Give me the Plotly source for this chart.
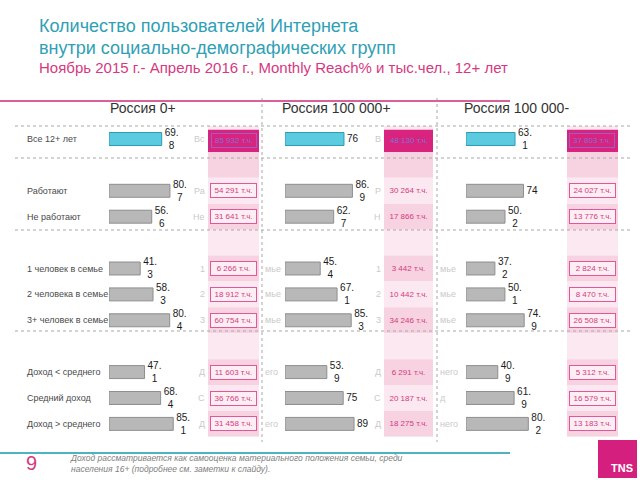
import plotly.graph_objects as go

# ---------------- data ----------------
categories = ["Все 12+ лет", "Работают", "Не работают",
              "1 человек в семье", "2 человека в семье", "3+ человек в семье",
              "Доход < среднего", "Средний доход", "Доход > среднего"]
group_sizes = [1, 2, 3, 3]
panels = ["Россия 0+", "Россия 100 000+", "Россия 100 000-"]
reach_0 = [69.8, 80.7, 56.6, 41.3, 58.3, 80.4, 47.1, 68.4, 85.1]
reach_100p = [76, 86.9, 62.7, 45.4, 67.1, 85.3, 53.9, 75, 89]
reach_100m = [63.1, 74, 50.2, 37.2, 50.1, 74.9, 40.9, 61.9, 80.2]
users_0 = [85932, 54291, 31641, 6266, 18912, 60754, 11603, 36766, 31458]
users_100p = [48130, 30264, 17866, 3442, 10442, 34246, 6291, 20187, 18275]
users_100m = [37803, 24027, 13776, 2824, 8470, 26508, 5312, 16579, 13183]

W, H = 640, 480
FONT = "Liberation Sans, Arial, sans-serif"
PINK = "#d6397f"
MAGENTA = "#d8247f"
BAND_DARK = "#f7d2e1"
BAND_LIGHT = "#fbe8f0"

def px(x):
    return x / W

def py(y):
    return 1 - y / H

# slot positions (spacer slot after each group)
slots = []
s = 0
for g in group_sizes:
    for _ in range(g):
        slots.append(s)
        s += 1
    s += 1
n_slots = slots[-1] + 1

def fmt_reach(v):
    if float(v).is_integer():
        return str(int(v))
    whole, dec = f"{v:.1f}".split(".")
    return f"{whole}.<br>{dec}"

def fmt_users(n):
    return f"{n:,}".replace(",", " ") + " т.ч."

fig = go.Figure()

geo = [
    dict(x0=109, scale=0.755, band=(208, 259), box=233.5, border=True),
    dict(x0=285, scale=0.776, band=(384, 433), box=408.5, border=False),
    dict(x0=466, scale=0.777, band=(567, 618), box=592, border=True),
]
reaches = [reach_0, reach_100p, reach_100m]
users = [users_0, users_100p, users_100m]

for i, (g, r) in enumerate(zip(geo, reaches)):
    ax = "" if i == 0 else str(i + 1)
    colors = ["#5ccbe0"] + ["#b8b8b8"] * (len(r) - 1)
    lines = ["#2b9cb5"] + ["#8e8e8e"] * (len(r) - 1)
    fig.add_trace(go.Bar(
        x=r, y=slots, orientation="h", width=0.5,
        marker=dict(color=colors, line=dict(color=lines, width=1)),
        text=[fmt_reach(v) for v in r], textposition="outside",
        textfont=dict(family=FONT, size=10, color="#1a1a1a"),
        constraintext="none", cliponaxis=False,
        xaxis="x" + ax, yaxis="y", showlegend=False, hoverinfo="skip",
    ))

ydom = [py(139 + 25.9 * (n_slots - 1) + 12.95), py(139 - 12.95)]
layout = dict(
    width=W, height=H, margin=dict(l=0, r=0, t=0, b=0),
    paper_bgcolor="white", plot_bgcolor="rgba(0,0,0,0)",
    yaxis=dict(range=[n_slots - 0.5, -0.5], domain=ydom, visible=False, fixedrange=True),
    font=dict(family=FONT),
)
for i, g in enumerate(geo):
    key = "xaxis" if i == 0 else f"xaxis{i+1}"
    layout[key] = dict(range=[0, 100], domain=[px(g["x0"]), px(g["x0"] + 100 * g["scale"])],
                       visible=False, anchor="y", fixedrange=True)
fig.update_layout(**layout)

shapes = []
ann = []

def A(**kw):
    kw.setdefault("showarrow", False)
    kw.setdefault("xanchor", "center")
    kw.setdefault("yanchor", "middle")
    ann.append(kw)

# bands behind value boxes
for g in geo:
    bx0, bx1 = g["band"]
    for k in range(n_slots):
        shapes.append(dict(type="rect", xref="paper", yref="y",
                           x0=px(bx0), x1=px(bx1), y0=k - 0.5, y1=k + 0.5,
                           fillcolor=BAND_DARK if k % 2 == 1 else BAND_LIGHT,
                           line=dict(width=0), layer="below"))
    shapes.append(dict(type="rect", xref="paper", yref="y",
                       x0=px(bx0), x1=px(bx1), y0=-0.36, y1=0.5,
                       fillcolor=MAGENTA, line=dict(width=0), layer="below"))

# dotted separators
for yy in [126, 158, 230, 331]:
    shapes.append(dict(type="line", xref="paper", yref="paper", x0=px(15), x1=px(630),
                       y0=py(yy), y1=py(yy), line=dict(color="#a8a8a8", width=1, dash="dot")))
for xx in [262, 437]:
    shapes.append(dict(type="line", xref="paper", yref="paper", x0=px(xx), x1=px(xx),
                       y0=py(98), y1=py(442), line=dict(color="#a8a8a8", width=1, dash="dot")))

# title rule and footer rule
shapes.append(dict(type="line", xref="paper", yref="paper", x0=0, x1=px(510),
                   y0=py(101), y1=py(101), line=dict(color="#d9609a", width=2)))
shapes.append(dict(type="line", xref="paper", yref="paper", x0=0, x1=px(510),
                   y0=py(453), y1=py(453), line=dict(color="#4db3bf", width=2)))
# TNS logo square
shapes.append(dict(type="rect", xref="paper", yref="paper", x0=px(598), x1=px(637),
                   y0=py(478), y1=py(440), fillcolor="#d51f7e", line=dict(width=0)))

# ghost fragments of hidden labels
left2 = ["Вс", "Ра", "Не", "1", "2", "3", "Д", "С", "Д"]
right2 = ["", "", "", "мье", "мье", "мье", "его", "", "его"]
left3 = ["В", "Р", "Н", "1", "2", "3", "Д", "С", "Д"]
right3 = ["", "", "", "мье", "мье", "мье", "него", "д", "него"]
for sl, a, b, c, d in zip(slots, left2, right2, left3, right3):
    for txt, xx, anc in [(a, 207, "right"), (b, 263, "left"), (c, 383, "right"), (d, 438, "left")]:
        if txt:
            A(text=txt, xref="paper", yref="y", x=px(xx), y=sl, xanchor=anc,
              font=dict(size=9, color="#cacaca"))

# row labels (panel 1)
for sl, c in zip(slots, categories):
    A(text=c, xref="paper", yref="y", x=px(25), y=sl, xanchor="left",
      font=dict(size=9, color="#4a4a4a"))

# value boxes
for g, u in zip(geo, users):
    for j, (sl, n) in enumerate(zip(slots, u)):
        if j == 0:
            A(text=fmt_users(n), xref="paper", yref="y", x=px(g["box"]), y=sl + 0.05,
              font=dict(size=8, color="#7f6fd6"),
              bgcolor=MAGENTA, width=42, height=11, borderpad=1,
              bordercolor="#9a5fc4" if g["border"] else MAGENTA, borderwidth=1)
        else:
            A(text=fmt_users(n), xref="paper", yref="y", x=px(g["box"]), y=sl,
              font=dict(size=8, color=PINK),
              bgcolor="#fdeef4" if g["border"] else "rgba(0,0,0,0)",
              width=43, height=11, borderpad=1,
              bordercolor="#e0589a" if g["border"] else "rgba(0,0,0,0)",
              borderwidth=1)

# panel headers
for name, cx in zip(panels, [143, 336, 516]):
    A(text=name, xref="paper", yref="paper", x=px(cx), y=py(108),
      font=dict(size=14, color="#333"))

# titles
A(text="Количество пользователей Интернета", xref="paper", yref="paper",
  x=px(37), y=py(26), xanchor="left", font=dict(size=18, color="#2fa0b5"))
A(text="внутри социально-демографических групп", xref="paper", yref="paper",
  x=px(37), y=py(48), xanchor="left", font=dict(size=18, color="#2fa0b5"))
A(text="Ноябрь 2015 г.- Апрель 2016 г., Monthly Reach% и тыс.чел., 12+ лет",
  xref="paper", yref="paper", x=px(37), y=py(67), xanchor="left",
  font=dict(size=15, color=PINK))

# footer
A(text="9", xref="paper", yref="paper", x=px(31), y=py(463),
  font=dict(size=20, color=PINK))
A(text="<i>Доход рассматривается как самооценка материального положения семьи, среди<br>"
       "населения 16+ (подробнее см. заметки к слайду).</i>",
  xref="paper", yref="paper", x=px(68), y=py(463), xanchor="left", align="left",
  font=dict(size=8.5, color="#808080"))
A(text="<b>TNS</b>", xref="paper", yref="paper", x=px(635), y=py(476),
  xanchor="right", yanchor="bottom", font=dict(size=11, color="white"))

fig.update_layout(shapes=shapes, annotations=ann)
fig.write_html("out.html", config={"displayModeBar": False},
               post_script="document.body.style.margin='0px';document.body.style.overflow='hidden';")
